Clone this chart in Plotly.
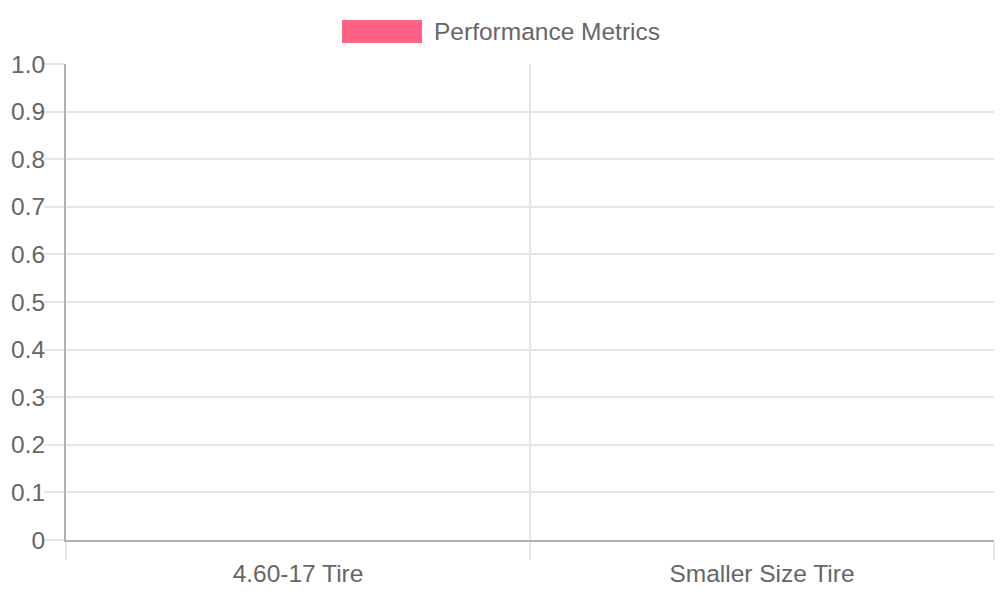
import plotly.graph_objects as go

categories = ["4.60-17 Tire", "Smaller Size Tire"]
values = [0, 0]
series_name = "Performance Metrics"
y_tick_vals = [0, 0.1, 0.2, 0.3, 0.4, 0.5, 0.6, 0.7, 0.8, 0.9, 1.0]
y_tick_text = ["0", "0.1", "0.2", "0.3", "0.4", "0.5", "0.6", "0.7", "0.8", "0.9", "1.0"]

BAR = "#ff6384"
TXT = "#666666"
GRID = "#e5e5e5"
AXIS = "#b0b0b0"
FONT = "Liberation Sans, Arial, sans-serif"
FS = 24.5

fig = go.Figure()
fig.add_trace(go.Bar(x=categories, y=values, name=series_name,
                     marker=dict(color=BAR, line=dict(width=0)),
                     showlegend=False))

L, R, T, B = 66, 6, 64, 60
W, H = 1000, 600
pw, ph = W - L - R, H - T - B

def px_x(p):
    return (p - L) / pw

def px_y(p):
    return (H - B - p) / ph

fig.add_shape(type="rect", xref="paper", yref="paper",
              x0=px_x(342), x1=px_x(422), y0=px_y(43), y1=px_y(20),
              fillcolor=BAR, line=dict(width=0))
fig.add_annotation(xref="paper", yref="paper", x=px_x(432), y=px_y(31),
                   xanchor="left", yanchor="middle", text=series_name,
                   showarrow=False, font=dict(family=FONT, size=FS, color=TXT))

fig.update_layout(
    width=W, height=H,
    margin=dict(l=L, r=R, t=T, b=B),
    paper_bgcolor="white", plot_bgcolor="white",
    font=dict(family=FONT, size=FS, color=TXT),
    bargap=0.2,
)
fig.update_xaxes(
    type="category", tickson="boundaries",
    showgrid=True, gridcolor=GRID, gridwidth=2,
    ticks="outside", ticklen=18, tickcolor=GRID, tickwidth=2,
    ticklabelstandoff=11,
    showline=True, linecolor=AXIS, linewidth=2,
    tickfont=dict(family=FONT, size=FS, color=TXT),
    zeroline=False, mirror=False,
)
fig.update_yaxes(
    range=[0, 1], tickvals=y_tick_vals, ticktext=y_tick_text,
    showgrid=True, gridcolor=GRID, gridwidth=2,
    ticks="outside", ticklen=20, tickcolor=GRID, tickwidth=2,
    ticklabelstandoff=-6,
    showline=True, linecolor=AXIS, linewidth=2,
    zeroline=False,
    tickfont=dict(family=FONT, size=FS, color=TXT),
)

fig.write_html("out.html", config={"displayModeBar": False},
               post_script="document.body.style.margin='0';document.body.style.padding='0';")
